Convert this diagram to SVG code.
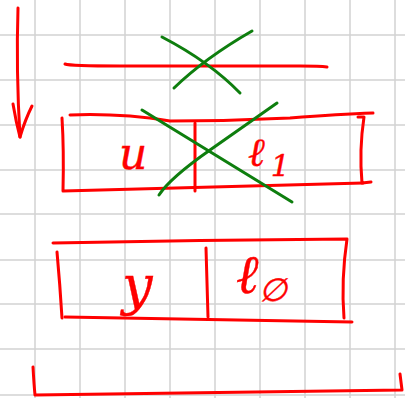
<svg xmlns="http://www.w3.org/2000/svg" width="405" height="398" viewBox="0 0 405 398">
<style>
.grid{stroke:#d2d2d2;stroke-width:1.5;fill:none}
.r{stroke:#ff0000;stroke-width:3;fill:none;stroke-linecap:round;stroke-linejoin:round}
.g{stroke:#0e7e0e;stroke-width:3;fill:none;stroke-linecap:round}
.t{fill:#ff0000;stroke:#ff0000;stroke-width:0.4;font-family:"DejaVu Serif","Liberation Serif",serif;font-style:italic}
</style>
<rect width="405" height="398" fill="#ffffff"/>
<g id="grid" class="grid">
<path d="M35,0V398M80,0V398M125,0V398M170,0V398M215,0V398M260,0V398M305,0V398M350,0V398M395,0V398"/>
<path d="M0,35H405M0,80H405M0,125H405M0,170H405M0,214H405M0,260H405M0,304H405M0,349H405M0,395H405"/>
</g>
<g id="connectors">
<path class="r" d="M18,8 Q16,70 20,137"/>
<path class="r" d="M13,104 Q16,122 20,137 Q25,120 32,106"/>
</g>
<g id="line-top">
<path class="r" d="M65,64 Q70,66 120,66 L300,66 Q320,66 327,67"/>
<path class="g" d="M162,37 Q210,62 240,93"/>
<path class="g" d="M252,31 Q205,58 174,88"/>
</g>
<g id="box-1">
<path class="r" d="M70,115 Q120,113 170,121 Q230,121 290,118 Q340,114 373,113"/>
<path class="r" d="M62,118 Q64,150 63,191 L363,183"/>
<path class="r" d="M358,117 L364,117 Q359,150 362,183 L371,182"/>
<path class="r" d="M195,123 L195,191"/>
<text class="t" x="119" y="169" font-size="44">u</text>
<text class="t" x="248" y="166" font-size="40">ℓ<tspan font-size="30" dx="6" dy="10">1</tspan></text>
<path class="g" d="M142,110 L292,202"/>
<path class="g" d="M277,103 L210,150 Q170,178 159,195"/>
</g>
<g id="box-2">
<path class="r" d="M53,243 Q200,240 347,239 Q341,280 344,318"/>
<path class="r" d="M57,252 Q60,285 62,318"/>
<path class="r" d="M65,317 L352,322"/>
<path class="r" d="M206,248 L208,317"/>
<text class="t" x="122" y="304" font-size="54">y</text>
<text class="t" x="236" y="293" font-size="54">ℓ<tspan font-size="32" dy="8">∅</tspan></text>
</g>
<g id="bracket">
<path class="r" d="M33,367 Q34,385 35,395 L402,390 L400,374"/>
</g>
</svg>
